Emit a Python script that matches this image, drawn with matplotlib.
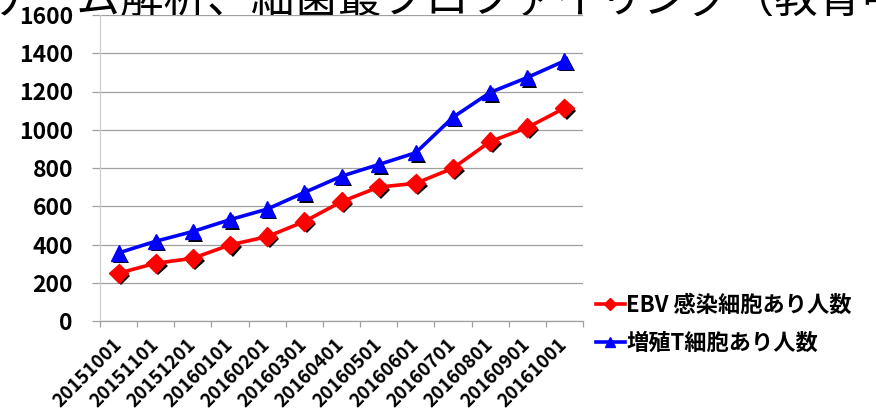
import numpy as np
import matplotlib
matplotlib.use("Agg")
import matplotlib.pyplot as plt
import matplotlib.patheffects as pe
from matplotlib.patches import Rectangle

plt.rcParams["font.family"] = ["Noto Sans CJK JP", "DejaVu Sans"]

dates = ["20151001", "20151101", "20151201", "20160101", "20160201", "20160301",
         "20160401", "20160501", "20160601", "20160701", "20160801", "20160901",
         "20161001"]
ebv = [250, 302, 328, 398, 441, 520, 624, 700, 720, 799, 938, 1011, 1113]
prolif_t = [356, 417, 468, 530, 585, 672, 757, 818, 880, 1065, 1195, 1273, 1360]

W, H = 876, 412
fig = plt.figure(figsize=(W / 100, H / 100), dpi=100)

# slide title sitting behind the chart, only its lower edge shows
fig.text(-10 / W, 1 - 13 / H, "ゲノム解析、細菌叢プロファイリング（教育中）",
         fontsize=31.4, va="baseline", ha="left", color="black", zorder=3)
# white chart background covering the title
fig.patches.append(Rectangle((20 / W, 0), 1, 1 - 15.5 / H, transform=fig.transFigure,
                             facecolor="white", edgecolor="none", zorder=4))
fig.patches.append(Rectangle((20 / W, 0), 56 / W, 1, transform=fig.transFigure,
                             facecolor="white", edgecolor="none", zorder=4))

ax = fig.add_axes([100 / W, 1 - 321 / H, 483 / W, 306 / H])
ax.set_zorder(5)
ax.patch.set_alpha(0)

x = np.arange(len(dates))
shadow = [pe.SimplePatchShadow(offset=(1.8, -1.8), shadow_rgbFace="black", alpha=1.0), pe.Normal()]

ax.plot(x, ebv, color="#ff0000", lw=2.6, zorder=3)
ax.plot(x, prolif_t, color="#0000ff", lw=2.6, zorder=3)
ax.plot(x, ebv, ls="none", marker="D", ms=9.5, color="#ff0000", mec="#ff0000",
        path_effects=shadow, zorder=4)
ax.plot(x, prolif_t, ls="none", marker="^", ms=11, color="#0000ff", mec="#0000ff",
        path_effects=shadow, zorder=4)

ax.set_xlim(-0.5, len(dates) - 0.5)
ax.set_ylim(0, 1600)
ax.set_yticks(np.arange(0, 1601, 200))
ax.grid(axis="y", color="#a0a0a0", lw=0.9)
ax.set_axisbelow(True)

for s in ["top", "right"]:
    ax.spines[s].set_visible(False)
ax.spines["left"].set_color("#cfcfcf")
ax.spines["bottom"].set_color("#a0a0a0")
ax.spines["left"].set_linewidth(0.9)
ax.spines["bottom"].set_linewidth(0.9)

ax.tick_params(axis="y", length=6, width=0.9, color="#a0a0a0", pad=13.5,
               labelsize=16.5)
for lab in ax.get_yticklabels():
    lab.set_fontweight("bold")

ax.set_xticks(x)
ax.set_xticklabels(dates, rotation=45, ha="right", va="center",
                   rotation_mode="anchor", fontsize=13.5, fontweight="bold")
ax.tick_params(axis="x", which="major", length=0, pad=15)
ax.set_xticks(np.arange(-0.5, len(dates)), minor=True)
ax.tick_params(axis="x", which="minor", length=4, width=0.9, color="#a0a0a0")

h1, = ax.plot([], [], color="#ff0000", lw=2.6, marker="D", ms=6)
h2, = ax.plot([], [], color="#0000ff", lw=2.6, marker="^", ms=7)
fig.legend([h1, h2], ["EBV 感染細胞あり人数", "増殖T細胞あり人数"],
           loc="upper left", bbox_to_anchor=(596 / W, 1 - 294 / H),
           frameon=False, handlelength=1.3, handletextpad=0.05,
           labelspacing=0.67, borderpad=0, borderaxespad=0,
           prop={"size": 16, "weight": "bold"})

fig.savefig("out.png", dpi=100)
